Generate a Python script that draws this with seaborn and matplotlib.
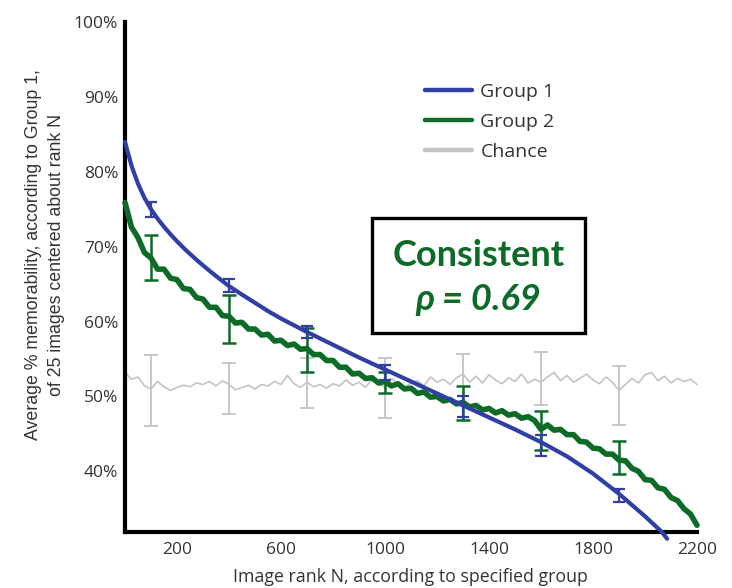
import numpy as np
import pandas as pd
import matplotlib
matplotlib.use("Agg")
import matplotlib.pyplot as plt
from matplotlib.patches import Rectangle
import seaborn as sns

# ---- data ----
rank_g1 = [0, 25, 50, 75, 100, 125, 150, 175, 200, 225, 250, 275, 300, 325, 350, 375, 400,
           450, 500, 550, 600, 650, 700, 800, 900, 1000, 1100, 1200, 1300, 1400, 1500,
           1600, 1700, 1800, 1900, 2000, 2065, 2085]
mem_g1 = [84.0, 80.8, 78.4, 76.5, 75.0, 73.75, 72.65, 71.65, 70.72, 69.85, 69.03, 68.25,
          67.5, 66.78, 66.08, 65.4, 64.74, 63.6, 62.5, 61.4, 60.4, 59.5, 58.6, 56.9, 55.2,
          53.6, 52.0, 50.4, 48.8, 47.2, 45.6, 43.9, 42.0, 39.7, 37.0, 34.0, 31.9, 31.0]

rank_g2 = list(range(0, 2201, 25))
mem_g2 = [75.9, 72.6, 71.2, 69.2, 68.5, 67.0, 67.0, 65.8, 65.6, 64.4, 64.3, 63.2, 63.0,
          61.9, 61.9, 60.8, 60.7, 59.8, 59.9, 59.0, 59.0, 58.2, 58.3, 57.4, 57.5, 56.8,
          57.0, 56.3, 56.4, 55.6, 55.6, 54.8, 54.8, 53.9, 53.9, 53.0, 53.1, 52.4, 52.5,
          51.8, 52.0, 51.4, 51.7, 51.0, 51.1, 50.4, 50.6, 49.9, 50.0, 49.4, 49.6, 49.0,
          49.2, 48.6, 48.8, 48.2, 48.4, 47.8, 48.1, 47.5, 47.7, 47.1, 47.3, 46.8, 45.6,
          46.2, 45.5, 45.6, 44.9, 44.9, 44.0, 43.9, 43.1, 43.0, 42.3, 42.3, 41.5, 41.4,
          40.4, 40.0, 38.9, 38.8, 37.8, 37.6, 36.5, 36.1, 35.0, 34.3, 32.8]

rank_ch = list(range(0, 2201, 25))
mem_ch = [53.2, 52.3, 52.6, 51.4, 51.0, 52.0, 51.3, 50.8, 51.2, 51.5, 51.3, 51.8, 51.6,
          52.0, 51.4, 52.1, 51.6, 50.9, 51.2, 51.5, 51.0, 51.6, 51.4, 52.0, 51.6, 52.8,
          51.7, 51.2, 51.9, 51.3, 51.6, 51.1, 51.7, 51.4, 52.2, 51.5, 51.9, 51.2, 52.3,
          51.6, 51.3, 52.4, 51.7, 51.2, 51.8, 52.1, 51.4, 52.6, 51.9, 52.3, 51.6, 52.5,
          53.0, 51.9, 52.7, 51.8, 52.9, 52.2, 51.7, 52.5, 52.0, 53.0, 51.8, 52.3, 51.9,
          52.6, 53.2, 52.1, 52.8, 51.9, 52.4, 53.0, 52.2, 51.7, 52.6, 51.9, 50.8, 51.6,
          52.4, 51.8, 52.9, 53.2, 52.1, 52.7, 51.8, 52.4, 52.0, 52.3, 51.6]

err_rank = [100, 400, 700, 1000, 1300, 1600, 1900]
g1_center = [75.0, 64.8, 58.6, 53.2, 48.6, 43.5, 36.8]
g1_err = [1.0, 0.85, 0.8, 1.0, 1.4, 1.4, 0.9]
g2_center = [68.5, 60.3, 56.2, 51.8, 49.1, 45.4, 41.9]
g2_err = [3.0, 3.2, 3.0, 1.4, 2.3, 2.6, 2.2]
ch_center = [50.8, 51.1, 51.8, 51.1, 52.3, 52.4, 50.1]
ch_err = [4.7, 3.4, 3.4, 4.0, 3.4, 3.6, 3.9]

xtick_vals = [200, 600, 1000, 1400, 1800, 2200]
ytick_vals = [40, 50, 60, 70, 80, 90, 100]

BLUE = "#2f3fa6"
GREEN = "#0b6b27"
GRAY = "#c4c4c4"

sns.set_style("white")
plt.rcParams["font.family"] = ["Open Sans", "DejaVu Sans"]

fig = plt.figure(figsize=(7.32, 5.88), dpi=100)
ax = fig.add_axes([125 / 732, 56 / 588, 572 / 732, 510 / 588])

df_g1 = pd.DataFrame({"rank": rank_g1, "mem": mem_g1})
df_g2 = pd.DataFrame({"rank": rank_g2, "mem": mem_g2})
df_ch = pd.DataFrame({"rank": rank_ch, "mem": mem_ch})

sns.lineplot(data=df_ch, x="rank", y="mem", ax=ax, color=GRAY, lw=1.2, label="Chance", zorder=2)
ax.errorbar(err_rank, ch_center, yerr=ch_err, fmt="none", ecolor=GRAY, elinewidth=1.3,
            capsize=5, capthick=1.3, zorder=2)

sns.lineplot(data=df_g2, x="rank", y="mem", ax=ax, color=GREEN, lw=4, label="Group 2", zorder=3)
ax.errorbar(err_rank, g2_center, yerr=g2_err, fmt="none", ecolor=GREEN, elinewidth=1.8,
            capsize=5, capthick=1.8, zorder=3)

sns.lineplot(data=df_g1, x="rank", y="mem", ax=ax, color=BLUE, lw=3, label="Group 1", zorder=4)
ax.errorbar(err_rank, g1_center, yerr=g1_err, fmt="none", ecolor=BLUE, elinewidth=1.6,
            capsize=4.5, capthick=1.6, zorder=4)
for ln in ax.lines:
    ln.set_clip_on(False)

ax.set_xlim(0, 2200)
ax.set_ylim(31.9, 100)
ax.set_xticks(xtick_vals)
ax.set_xticklabels([str(v) for v in xtick_vals])
ax.set_xticks([200], minor=True)
ax.set_yticks(ytick_vals)
ax.set_yticklabels([f"{v}%" for v in ytick_vals])
ax.tick_params(axis="both", which="major", length=0, labelsize=12.5, labelcolor="#333333")
ax.tick_params(axis="x", which="major", pad=7)
ax.tick_params(axis="y", which="major", pad=5)
ax.tick_params(axis="x", which="minor", direction="in", length=5, width=3, color="black")
ax.set_xlabel("")
ax.set_ylabel("")

for side in ["top", "right"]:
    ax.spines[side].set_visible(False)
for side in ["left", "bottom"]:
    ax.spines[side].set_linewidth(3)
    ax.spines[side].set_color("black")

handles, labels = ax.get_legend_handles_labels()
order = [labels.index(k) for k in ["Group 1", "Group 2", "Chance"]]
leg = ax.legend([handles[i] for i in order], [labels[i] for i in order],
                loc="upper left", bbox_to_anchor=(425 / 732, 1 - 83 / 588),
                bbox_transform=fig.transFigure, frameon=False, borderpad=0,
                borderaxespad=0, handlelength=2.4, handletextpad=0.45,
                labelspacing=0.62, prop={"family": "Open Sans", "size": 14})
for t in leg.get_texts():
    t.set_color("#333333")
for h in leg.get_lines():
    h.set_linewidth(3.2)

fig.text(45 / 732, 1 - 255 / 588,
         "Average % memorability, according to Group 1,\nof 25 images centered about rank N",
         rotation=90, ha="center", va="center", multialignment="center", linespacing=1.45,
         fontsize=12.8, color="#333333", family="Liberation Sans")
fig.text(410 / 732, 1 - 577 / 588, "Image rank N, according to specified group",
         ha="center", va="center", fontsize=12.8, color="#333333")

# annotation box
fig.patches.append(Rectangle((372 / 732, 1 - 333 / 588), 213 / 732, 115 / 588,
                             transform=fig.transFigure, fill=False, lw=2.4,
                             edgecolor="black", zorder=5))
fig.text(479 / 732, 1 - 256 / 588, "Consistent", ha="center", va="center",
         fontsize=26, fontweight="bold", color=GREEN, family="Lato")
fig.text(478 / 732, 1 - 300 / 588, "ρ = 0.69", ha="center", va="center",
         fontsize=26, fontweight="bold", style="italic", color=GREEN, family="Lato")

fig.savefig("out.png", dpi=100)
